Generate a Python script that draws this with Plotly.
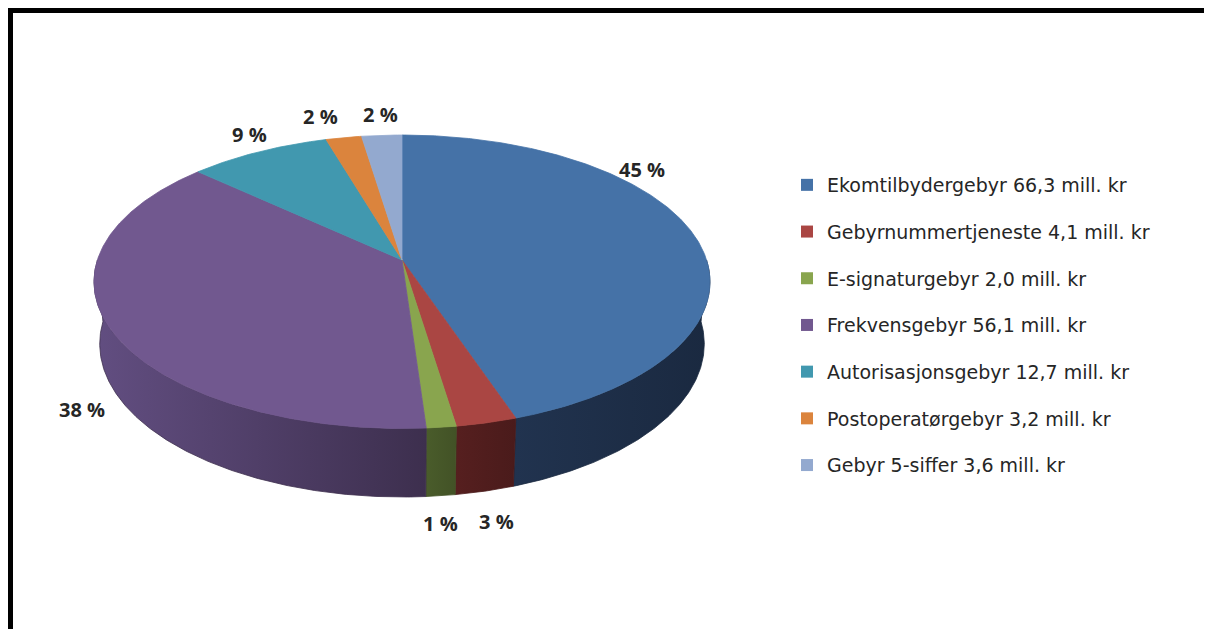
import numpy as np
import plotly.graph_objects as go

# ---------------- data ----------------
categories = ["Ekomtilbydergebyr", "Gebyrnummertjeneste", "E-signaturgebyr",
              "Frekvensgebyr", "Autorisasjonsgebyr", "Postoperatørgebyr", "Gebyr 5-siffer"]
values = [66.3, 4.1, 2.0, 56.1, 12.7, 3.2, 3.6]
value_text = ["66,3", "4,1", "2,0", "56,1", "12,7", "3,2", "3,6"]
unit = "mill. kr"

# ---------------- styles ----------------
top_colors = ["#4572A7", "#AA4643", "#89A54E", "#71588F", "#4198AF", "#DB843D", "#93A9CF"]
wall_colors = [("#21334F", "#1A2940"), ("#561F1F", "#4A1B1B"), ("#4A5C2B", "#425226"),
               ("#624E81", "#3D2F4E"), ("#22586A", "#1B4654"), ("#7A4520", "#6A3B1B"),
               ("#4F5F7D", "#44536E")]
label_font = dict(family="Open Sans", size=20, color="#262626", weight="bold")
legend_font = dict(family="DejaVu Sans", size=19, color="#262626")

# page geometry (the page body adds an 8 px margin)
OFF = 8
W, H = 1196, 621


def px(x):
    return (x - OFF) / W


def py(y):
    return 1 - (y - OFF) / H


# ---------------- 3-D pie projection (perspective camera) ----------------
U0, V0 = 402.0, 260.0          # screen position of the pie centre
SIN_PHI = 0.4711               # camera elevation
COS_PHI = float(np.sqrt(1 - SIN_PHI ** 2))
DIST = 5.952                   # camera distance (in pie radii)
FOCAL = 1813.0                 # focal length (px)
DEPTH = 0.2336                 # pie thickness (in pie radii)


def project(X, Y, Z):
    X, Y, Z = np.asarray(X, float), np.asarray(Y, float), np.asarray(Z, float)
    d = DIST - Y * SIN_PHI + Z * COS_PHI
    yc = Y * COS_PHI + Z * SIN_PHI
    return U0 + FOCAL * X / d, V0 - FOCAL * yc / d


total = float(np.sum(values))
frac = np.array(values) / total
ends = np.cumsum(frac) * 360.0
starts = ends - frac * 360.0

fig = go.Figure()

# side walls (front half only), drawn first
for i in range(len(values)):
    a0, a1 = max(starts[i], 90.0), min(ends[i], 270.0)
    if a1 <= a0:
        continue
    th = np.radians(np.linspace(a0, a1, max(4, int((a1 - a0) * 2) + 2)))
    X, Z = np.sin(th), np.cos(th)
    ut, vt = project(X, 0 * X, Z)
    ub, vb = project(X[::-1], -DEPTH + 0 * X, Z[::-1])
    u = np.concatenate([ut, ub, ut[:1]])
    v = np.concatenate([vt, vb, vt[:1]])
    fig.add_trace(go.Scatter(
        x=u, y=v, mode="lines", fill="toself",
        line=dict(color=wall_colors[i][1], width=0.8),
        fillcolor=wall_colors[i][1],
        fillgradient=dict(type="horizontal",
                          colorscale=[[0, wall_colors[i][0]], [1, wall_colors[i][1]]]),
        hoverinfo="skip", showlegend=False))

# top faces
for i in range(len(values)):
    th = np.radians(np.linspace(starts[i], ends[i], max(4, int(frac[i] * 720) + 2)))
    X, Z = np.sin(th), np.cos(th)
    ut, vt = project(X, 0 * X, Z)
    u = np.concatenate([[U0], ut, [U0]])
    v = np.concatenate([[V0], vt, [V0]])
    fig.add_trace(go.Scatter(
        x=u, y=v, mode="lines", fill="toself",
        line=dict(color=top_colors[i], width=0.8), fillcolor=top_colors[i],
        hoverinfo="text", text=f"{categories[i]} {value_text[i]} {unit}",
        showlegend=False))

# legend entries
for i in range(len(values)):
    fig.add_trace(go.Scatter(
        x=[None], y=[None], mode="markers",
        marker=dict(symbol="square", size=12, color=top_colors[i]),
        name=f"{categories[i]} {value_text[i]} {unit}",
        legendgroup=f"g{i}", showlegend=True))

# percentage labels (placed outside each slice, with small placement nudges)
label_shift = {0: (-102, -64), 1: (0, 6), 2: (-6, 3), 3: (5, 10),
               4: (12, -1), 5: (-15, -3), 6: (2, -3)}
for i in range(len(values)):
    mid = (starts[i] + ends[i]) / 2.0
    t = np.radians(mid)
    front = 90.0 < mid < 270.0
    r = 1.12 if front else 1.17
    lu, lv = project(r * np.sin(t), -DEPTH if front else 0.0, r * np.cos(t))
    du, dv = label_shift.get(i, (0, 0))
    fig.add_annotation(x=float(lu) + du, y=float(lv) + dv,
                       text=f"{round(frac[i] * 100):.0f} %", showarrow=False,
                       font=label_font, xanchor="center", yanchor="middle")

# outer frame
fig.add_shape(type="rect", xref="paper", yref="paper",
              x0=px(10.5), x1=px(1212), y0=-0.05, y1=py(10.5),
              line=dict(color="black", width=5), fillcolor="rgba(0,0,0,0)", layer="above")

fig.update_layout(
    width=W, height=H,
    margin=dict(l=0, r=0, t=0, b=0),
    paper_bgcolor="white", plot_bgcolor="white",
    xaxis=dict(range=[OFF, OFF + W], visible=False, fixedrange=True),
    yaxis=dict(range=[OFF + H, OFF], visible=False, fixedrange=True),
    showlegend=True,
    legend=dict(x=px(787), y=py(166), xanchor="left", yanchor="top",
                font=legend_font, tracegroupgap=19, bgcolor="rgba(0,0,0,0)",
                itemclick=False, itemdoubleclick=False),
)

fig.write_html("out.html")
